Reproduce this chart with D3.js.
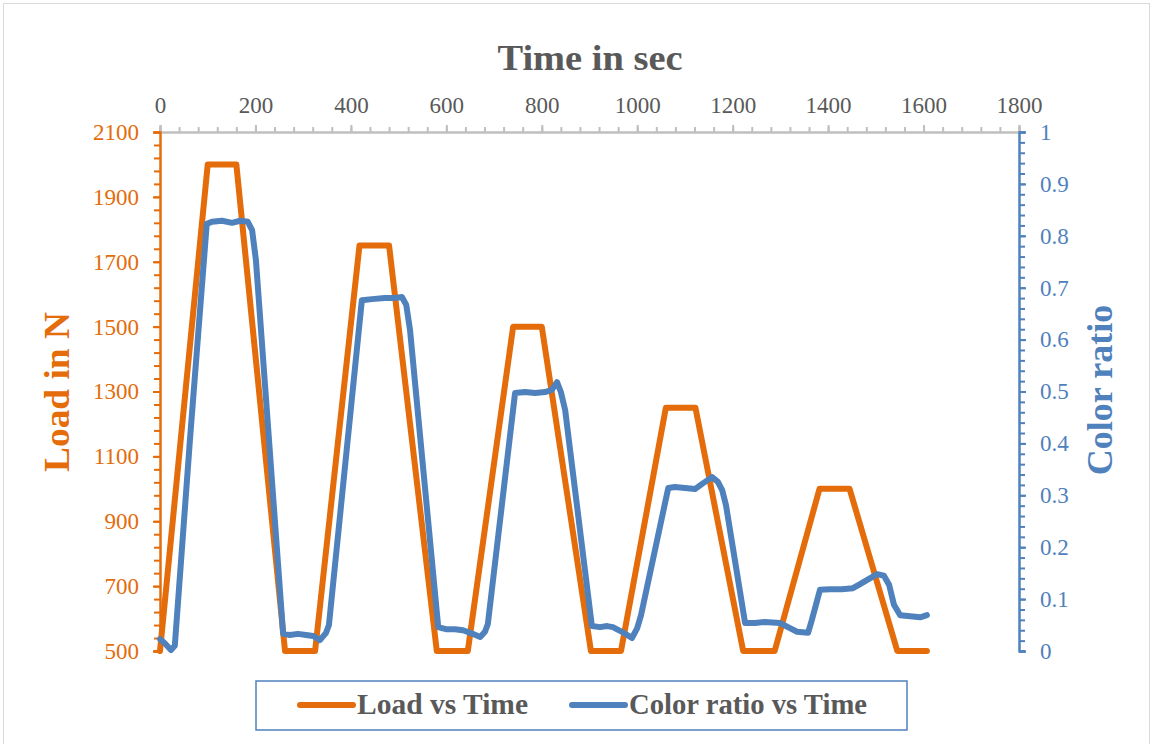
<!DOCTYPE html>
<html>
<head>
<meta charset="utf-8">
<script src="https://cdn.jsdelivr.net/npm/d3@7"></script>
<style>
  body { margin: 0; background: #fff; }
  svg { font-family: "Liberation Serif", "DejaVu Serif", serif; }
  .series { fill: none; stroke-width: 6; stroke-linejoin: round; stroke-linecap: round; }
</style>
</head>
<body>
<div class="lineChart"></div>
<script>
const WIDTH = 1151;
const HEIGHT = 744;
const ORANGE = '#e46c0a';
const BLUE = '#4f81bd';
const GREY_TEXT = '#595959';

// Load vs Time (time in sec, load in N)
var loadTime = [0, 100, 160, 262, 325, 418, 480, 580, 645, 740, 800, 903, 966, 1060, 1122, 1222, 1288, 1382, 1445, 1545, 1607];
var loadValue = [500, 2000, 2000, 500, 500, 1750, 1750, 500, 500, 1500, 1500, 500, 500, 1250, 1250, 500, 500, 1000, 1000, 500, 500];

// Color ratio vs Time
var ratioTime = [0, 10, 23, 31, 63, 98, 109, 130, 151, 168, 184, 193, 201, 258, 272, 289, 306, 321, 335, 348, 354,
    423, 444, 471, 492, 507, 516, 524, 583, 599, 618, 635, 650, 671, 681, 687,
    744, 765, 786, 807, 821, 832, 840, 849, 905, 922, 937, 949, 968, 989, 1000, 1008,
    1065, 1079, 1100, 1121, 1136, 1157, 1169, 1178, 1186, 1226, 1247, 1268, 1299, 1320, 1335, 1358, 1366,
    1383, 1404, 1429, 1452, 1467, 1482, 1503, 1517, 1528, 1538, 1551, 1572, 1593, 1607];
var ratioValue = [0.023, 0.015, 0.002, 0.010, 0.41, 0.823, 0.827, 0.829, 0.825, 0.829, 0.827, 0.811, 0.753, 0.033, 0.031, 0.033, 0.031, 0.029, 0.021, 0.035, 0.05,
    0.676, 0.678, 0.680, 0.680, 0.682, 0.667, 0.618, 0.046, 0.042, 0.042, 0.040, 0.035, 0.027, 0.037, 0.052,
    0.497, 0.499, 0.497, 0.499, 0.503, 0.518, 0.499, 0.464, 0.048, 0.046, 0.048, 0.046, 0.037, 0.025, 0.044, 0.069,
    0.314, 0.316, 0.314, 0.312, 0.322, 0.335, 0.326, 0.310, 0.281, 0.054, 0.054, 0.056, 0.054, 0.044, 0.037, 0.035, 0.06,
    0.118, 0.119, 0.119, 0.121, 0.129, 0.137, 0.148, 0.145, 0.127, 0.089, 0.069, 0.067, 0.065, 0.069];

var timeTicks = [0, 200, 400, 600, 800, 1000, 1200, 1400, 1600, 1800];
var loadTicks = [500, 700, 900, 1100, 1300, 1500, 1700, 1900, 2100];
var ratioTicks = [0, 0.1, 0.2, 0.3, 0.4, 0.5, 0.6, 0.7, 0.8, 0.9, 1];

var seriesNames = ['Load vs Time', 'Color ratio vs Time'];

var plot = { left: 160, right: 1019, top: 132, bottom: 651 };

var xScale = d3.scaleLinear().domain([0, 1800]).range([plot.left, plot.right]);
var loadScale = d3.scaleLinear().domain([500, 2100]).range([plot.bottom, plot.top]);
var ratioScale = d3.scaleLinear().domain([0, 1]).range([plot.bottom, plot.top]);

var svg = d3.select('.lineChart').append('svg')
    .attr('width', WIDTH)
    .attr('height', HEIGHT);

svg.append('rect')
    .attr('x', 3.5).attr('y', 3.5)
    .attr('width', WIDTH - 5).attr('height', HEIGHT)
    .attr('fill', '#fff').attr('stroke', '#d9d9d9');

function styleAxis(g, color, textColor, size) {
    g.select('.domain').attr('stroke', color).attr('stroke-width', 2);
    g.selectAll('.tick line').attr('stroke', color).attr('stroke-width', 2);
    g.selectAll('.tick text').attr('fill', textColor).attr('font-size', size)
        .attr('font-family', '"Liberation Serif", serif');
}

// minor ticks
var minorTime = d3.range(0, 1801, 40);
var minorLoad = d3.range(500, 2101, 40);
var minorRatio = d3.range(0, 1.0001, 0.02);

var xMinor = svg.append('g').attr('transform', 'translate(0,' + plot.top + ')')
    .call(d3.axisTop(xScale).tickValues(minorTime).tickSize(5).tickFormat(''));
styleAxis(xMinor, '#bfbfbf', GREY_TEXT, 22);
var xAxisG = svg.append('g').attr('transform', 'translate(0,' + plot.top + ')')
    .call(d3.axisTop(xScale).tickValues(timeTicks).tickSize(7).tickPadding(12).tickFormat(d3.format('d')));
styleAxis(xAxisG, '#bfbfbf', GREY_TEXT, 23);

var lMinor = svg.append('g').attr('transform', 'translate(' + plot.left + ',0)')
    .call(d3.axisLeft(loadScale).tickValues(minorLoad).tickSize(6).tickFormat(''));
styleAxis(lMinor, ORANGE, ORANGE, 22);
var lAxisG = svg.append('g').attr('transform', 'translate(' + plot.left + ',0)')
    .call(d3.axisLeft(loadScale).tickValues(loadTicks).tickSize(7).tickPadding(14).tickFormat(d3.format('d')));
styleAxis(lAxisG, ORANGE, ORANGE, 23);

var rMinor = svg.append('g').attr('transform', 'translate(' + plot.right + ',0)')
    .call(d3.axisRight(ratioScale).tickValues(minorRatio).tickSize(6).tickFormat(''));
styleAxis(rMinor, BLUE, BLUE, 22);
var rAxisG = svg.append('g').attr('transform', 'translate(' + plot.right + ',0)')
    .call(d3.axisRight(ratioScale).tickValues(ratioTicks).tickSize(7).tickPadding(14)
        .tickFormat(function (d) { return String(+d.toFixed(1)); }));
styleAxis(rAxisG, BLUE, BLUE, 23);

// titles
svg.append('text')
    .attr('x', 590).attr('y', 70)
    .attr('text-anchor', 'middle')
    .attr('font-size', 36).attr('font-weight', 'bold')
    .attr('textLength', 185).attr('lengthAdjust', 'spacingAndGlyphs')
    .attr('fill', GREY_TEXT)
    .text('Time in sec');

svg.append('text')
    .attr('transform', 'translate(69,392) rotate(-90)')
    .attr('text-anchor', 'middle')
    .attr('font-size', 36).attr('font-weight', 'bold')
    .attr('textLength', 160).attr('lengthAdjust', 'spacingAndGlyphs')
    .attr('fill', ORANGE)
    .text('Load in N');

svg.append('text')
    .attr('transform', 'translate(1112,390) rotate(-90)')
    .attr('text-anchor', 'middle')
    .attr('font-size', 36).attr('font-weight', 'bold')
    .attr('fill', BLUE)
    .text('Color ratio');

// series
var loadLine = d3.line()
    .x(function (d, i) { return xScale(loadTime[i]); })
    .y(function (d) { return loadScale(d); });
var ratioLine = d3.line()
    .x(function (d, i) { return xScale(ratioTime[i]); })
    .y(function (d) { return ratioScale(d); });

svg.append('path').attr('class', 'series')
    .attr('d', loadLine(loadValue))
    .attr('stroke', ORANGE);
svg.append('path').attr('class', 'series')
    .attr('d', ratioLine(ratioValue))
    .attr('stroke', BLUE);

// legend
var legend = svg.append('g');
legend.append('rect')
    .attr('x', 256).attr('y', 681)
    .attr('width', 651).attr('height', 49)
    .attr('fill', '#fff').attr('stroke', BLUE).attr('stroke-width', 1.5);

var legendItems = [
    { name: seriesNames[0], color: ORANGE, x: 300, w: 171 },
    { name: seriesNames[1], color: BLUE, x: 572, w: 238 }
];
legendItems.forEach(function (item) {
    legend.append('line')
        .attr('x1', item.x).attr('x2', item.x + 53)
        .attr('y1', 705).attr('y2', 705)
        .attr('stroke', item.color).attr('stroke-width', 6)
        .attr('stroke-linecap', 'round');
    legend.append('text')
        .attr('x', item.x + 57).attr('y', 714)
        .attr('font-size', 29).attr('font-weight', 'bold')
        .attr('textLength', item.w).attr('lengthAdjust', 'spacingAndGlyphs')
        .attr('fill', GREY_TEXT)
        .text(item.name);
});
</script>
</body>
</html>
